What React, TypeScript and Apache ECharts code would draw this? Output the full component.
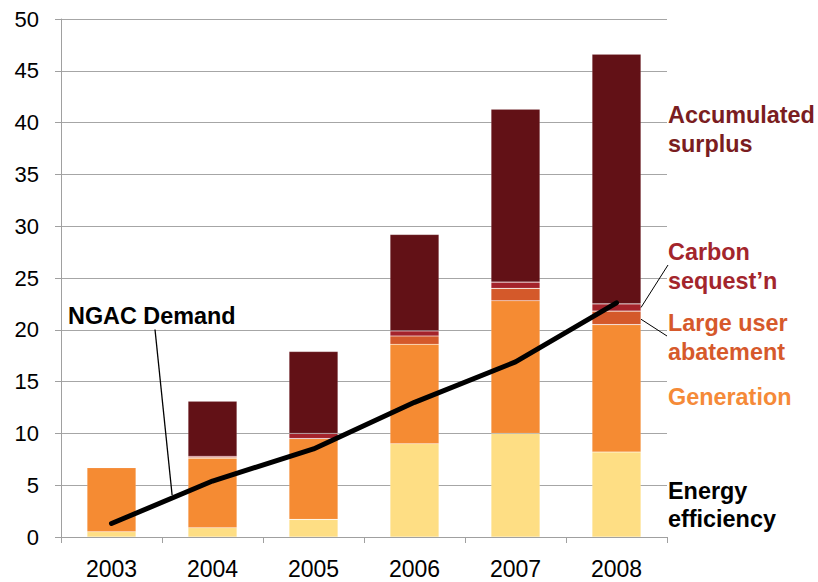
import { useEffect, useRef } from 'react';
import * as echarts from 'echarts';

// Abatement supply stacked by source, with the NGAC demand line on top
const years = ['2003', '2004', '2005', '2006', '2007', '2008'];
const energyEfficiency = [0.5, 0.9, 1.7, 9.0, 10.0, 8.2];
const generation = [6.2, 6.7, 7.8, 9.6, 12.8, 12.3];
const largeUserAbatement = [0, 0.1, 0, 0.8, 1.2, 1.3];
const carbonSequestration = [0, 0.1, 0.5, 0.5, 0.6, 0.7];
const accumulatedSurplus = [0, 5.3, 7.9, 9.3, 16.7, 24.1];
const ngacDemand = [1.3, 5.4, 8.5, 13.0, 16.9, 22.6];

const yMin = 0;
const yMax = 50;
const yStep = 5;

const COLORS = {
  efficiency: '#FEDE84',
  generation: '#F58B33',
  largeUser: '#D4592A',
  carbon: '#A4232B',
  surplus: '#621116',
};

const FONT = '"Liberation Sans", Arial, Helvetica, sans-serif';
const BAR_WIDTH_RATIO = 0.485;

function labelText(text: string, x: number, y: number, fill: string) {
  return {
    type: 'text',
    x,
    y,
    silent: true,
    style: {
      text,
      fill,
      fontFamily: FONT,
      fontWeight: 'bold',
      fontSize: 23.4,
      verticalAlign: 'middle',
      align: 'left',
    },
  };
}

function leader(x1: number, y1: number, x2: number, y2: number, width = 1) {
  return {
    type: 'line',
    silent: true,
    shape: { x1, y1, x2, y2 },
    style: { stroke: '#000', lineWidth: width },
    z: 20,
  };
}

export default function App() {
  const ref = useRef<HTMLDivElement>(null);

  useEffect(() => {
    if (!ref.current) return;
    const chart = echarts.init(ref.current, undefined, { renderer: 'svg' });

    const barSeries = (name: string, data: number[], color: string) => ({
      name,
      type: 'bar',
      stack: 'supply',
      data,
      barWidth: `${BAR_WIDTH_RATIO * 100}%`,
      itemStyle: { color, borderColor: 'rgba(255,255,255,0.2)', borderWidth: 0.6 },
      emphasis: { disabled: true },
    });

    chart.setOption({
      animation: false,
      backgroundColor: '#fff',
      textStyle: { fontFamily: FONT },
      grid: { left: 61, right: 151, top: 19, bottom: 45, containLabel: false },
      xAxis: {
        type: 'category',
        data: years,
        boundaryGap: true,
        axisLine: { show: true, lineStyle: { color: '#A0A0A0', width: 1 } },
        axisTick: { show: true, length: 6, lineStyle: { color: '#A0A0A0' } },
        axisLabel: { color: '#000', fontSize: 23, margin: 20, fontFamily: FONT },
      },
      yAxis: {
        type: 'value',
        min: yMin,
        max: yMax,
        interval: yStep,
        axisLine: { show: true, lineStyle: { color: '#A0A0A0', width: 1 } },
        axisTick: { show: true, length: 6, lineStyle: { color: '#A0A0A0' } },
        axisLabel: { color: '#000', fontSize: 22, margin: 22, fontFamily: FONT },
        splitLine: { show: true, lineStyle: { color: '#A6A6A6', width: 1 } },
      },
      series: [
        barSeries('Energy efficiency', energyEfficiency, COLORS.efficiency),
        barSeries('Generation', generation, COLORS.generation),
        barSeries('Large user abatement', largeUserAbatement, COLORS.largeUser),
        barSeries("Carbon sequest'n", carbonSequestration, COLORS.carbon),
        barSeries('Accumulated surplus', accumulatedSurplus, COLORS.surplus),
        {
          name: 'NGAC Demand',
          type: 'line',
          data: ngacDemand,
          symbol: 'none',
          smooth: false,
          z: 10,
          lineStyle: { color: '#000', width: 5, cap: 'round', join: 'round' },
          emphasis: { disabled: true },
        },
      ],
    });

    // Leader lines anchored to the drawn marks
    const px = (i: number, v: number) =>
      chart.convertToPixel({ seriesIndex: 0 }, [i, v]) as number[];
    const last = years.length - 1;
    const band = px(1, 0)[0] - px(0, 0)[0];
    const barRight = px(last, 0)[0] + (band * BAR_WIDTH_RATIO) / 2;
    const baseLarge = energyEfficiency[last] + generation[last];
    const largeMid = px(last, baseLarge + largeUserAbatement[last] * 0.4)[1];
    const carbonMid = px(
      last,
      baseLarge + largeUserAbatement[last] + carbonSequestration[last] * 0.5,
    )[1];
    const p0 = px(0, ngacDemand[0]);
    const p1 = px(1, ngacDemand[1]);
    const t = 0.6;
    const demandX = p0[0] + (p1[0] - p0[0]) * t;
    const demandY = p0[1] + (p1[1] - p0[1]) * t - 3;

    chart.setOption({
      graphic: [
        labelText('Accumulated', 668, 115, '#7A1D21'),
        labelText('surplus', 668, 143.6, '#7A1D21'),
        labelText('Carbon', 668, 252, '#A3252C'),
        labelText("sequest\u2019n", 668, 280.6, '#A3252C'),
        labelText('Large user', 668, 323.3, '#D6592B'),
        labelText('abatement', 668, 351.9, '#D6592B'),
        labelText('Generation', 668, 396.7, '#F58A38'),
        labelText('Energy', 668, 491.3, '#000'),
        labelText('efficiency', 668, 519, '#000'),
        labelText('NGAC Demand', 68, 316, '#000'),
        leader(668, 265, barRight, carbonMid),
        leader(barRight, largeMid, 667, 336),
        leader(155, 329.5, demandX, demandY, 1.3),
      ],
    });

    return () => chart.dispose();
  }, []);

  return (
    <div
      ref={ref}
      style={{ position: 'absolute', left: 0, top: 0, width: 818, height: 582 }}
    />
  );
}
